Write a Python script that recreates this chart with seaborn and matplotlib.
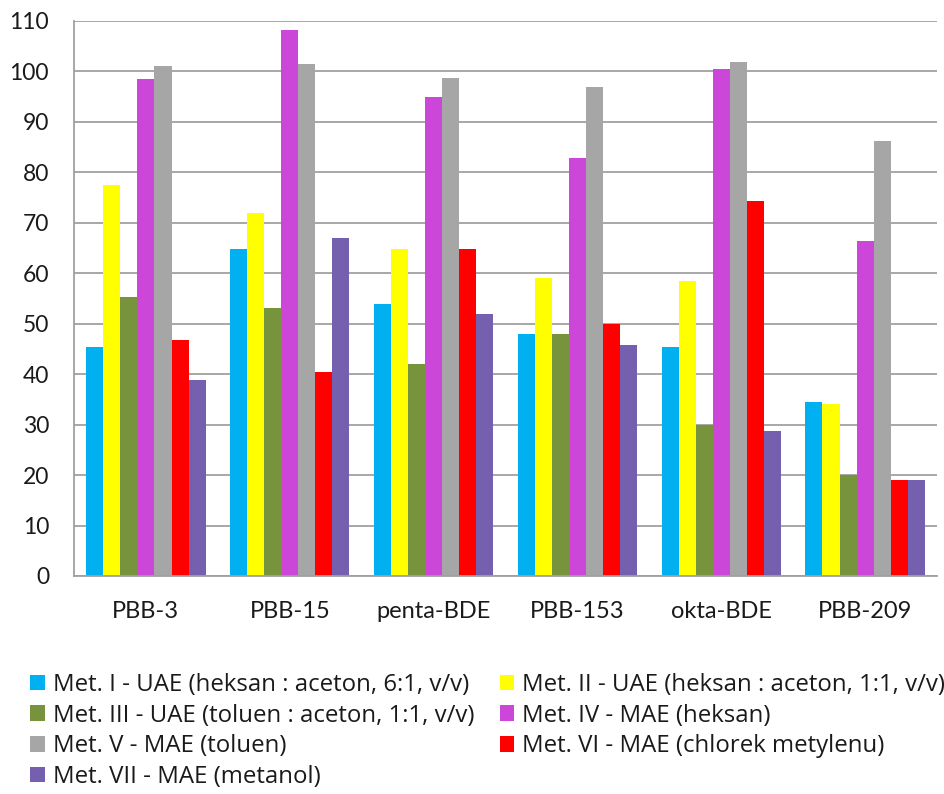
import matplotlib
matplotlib.use("Agg")
import matplotlib.pyplot as plt
from matplotlib.patches import Patch
from matplotlib.ticker import FixedLocator, MultipleLocator
import pandas as pd
import seaborn as sns

compounds = ["PBB-3", "PBB-15", "penta-BDE", "PBB-153", "okta-BDE", "PBB-209"]

methods = [
    "Met. I - UAE (heksan : aceton, 6:1, v/v)",
    "Met. II - UAE (heksan : aceton, 1:1, v/v)",
    "Met. III - UAE (toluen : aceton, 1:1, v/v)",
    "Met. IV - MAE (heksan)",
    "Met. V - MAE (toluen)",
    "Met. VI - MAE (chlorek metylenu)",
    "Met. VII - MAE (metanol)",
]

met_1 = [45.4, 64.9, 53.9, 47.9, 45.4, 34.4]
met_2 = [77.5, 71.9, 64.9, 59.0, 58.5, 34.1]
met_3 = [55.2, 53.2, 42.0, 47.9, 30.0, 20.0]
met_4 = [98.4, 108.2, 94.9, 82.9, 100.4, 66.4]
met_5 = [101.1, 101.4, 98.6, 96.9, 101.9, 86.2]
met_6 = [46.8, 40.4, 64.9, 50.0, 74.3, 19.1]
met_7 = [38.9, 66.9, 51.9, 45.8, 28.8, 19.1]

colors = ["#00B0F0", "#FFFF00", "#77933C", "#CC46D9", "#A6A6A6", "#FF0000", "#7560AF"]

series = [met_1, met_2, met_3, met_4, met_5, met_6, met_7]
df = pd.DataFrame(
    [(c, m, v) for m, vals in zip(methods, series) for c, v in zip(compounds, vals)],
    columns=["compound", "method", "value"],
)

sns.set_style("white")
plt.rcParams["font.family"] = ["Lato", "DejaVu Sans"]

fig = plt.figure(figsize=(9.44, 7.94), dpi=100)
ax = fig.add_axes([0.0784, 0.2746, 0.9142, 0.699])

sns.barplot(
    data=df, x="compound", y="value", hue="method",
    order=compounds, hue_order=methods, palette=colors,
    width=0.83, dodge=True, saturation=1, linewidth=0,
    errorbar=None, legend=False, ax=ax,
)

grid_c = "#A0A0A0"
ax.set_xlim(-0.5, len(compounds) - 0.5)
ax.set_ylim(0, 110)
ax.yaxis.set_major_locator(MultipleLocator(10))
ax.grid(axis="y", color=grid_c, linewidth=1.3)
ax.set_axisbelow(True)
for side in ["top", "right"]:
    ax.spines[side].set_visible(False)
for side in ["left", "bottom"]:
    ax.spines[side].set_color(grid_c)
    ax.spines[side].set_linewidth(1.3)

ax.set_xlabel("")
ax.set_ylabel("")
ax.tick_params(axis="x", which="major", length=0, pad=18, labelsize=17, labelcolor="#1a1a1a")
ax.xaxis.set_minor_locator(FixedLocator([i - 0.5 for i in range(len(compounds) + 1)]))
ax.tick_params(axis="x", which="minor", length=7, width=1.3, color=grid_c, direction="out")
ax.tick_params(axis="y", length=5, width=1.3, color=grid_c, direction="out",
               labelsize=16.5, labelcolor="#1a1a1a", pad=13)

handles = [Patch(facecolor=c, edgecolor="none") for c in colors]
order = [0, 2, 4, 6, 1, 3, 5]
fig.legend(
    [handles[i] for i in order], [methods[i] for i in order],
    ncol=2, loc="upper left", bbox_to_anchor=(0.032, 0.1525),
    frameon=False, prop={"family": ["Open Sans", "DejaVu Sans"], "size": 17.3},
    handlelength=0.62, handleheight=0.62,
    handletextpad=0.32, columnspacing=1.05, labelspacing=0.28, borderaxespad=0,
    borderpad=0, labelcolor="#1a1a1a",
)

fig.savefig("out.png", dpi=100)
